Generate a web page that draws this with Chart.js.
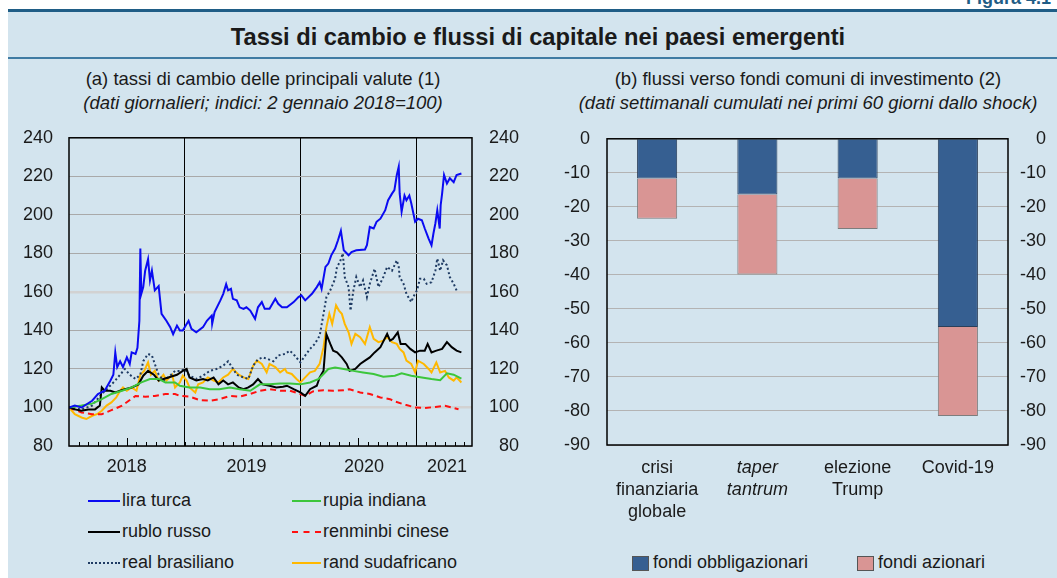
<!DOCTYPE html>
<html>
<head>
<meta charset="utf-8">
<script src="https://cdn.jsdelivr.net/npm/chart.js@4.4.0/dist/chart.umd.min.js"></script>
<style>
  body { margin:0; width:1057px; height:578px; position:relative; overflow:hidden; background:#fff;
         font-family:"Liberation Sans", Arial, sans-serif; color:#1a1a1a; }
  #panel { position:absolute; left:8px; top:12px; right:0; bottom:0; background:#d3e4ee; }
  #topline { position:absolute; left:8px; right:0; top:9px; height:3px; background:#1f5d86; }
  #sepline { position:absolute; left:8px; right:0; top:57px; height:2px; background:#3f7ba3; }
  #fig { position:absolute; right:6px; top:-11px; font-weight:bold; font-size:18px; line-height:18px; color:#1f5d86; }
  #title { position:absolute; left:0; width:1076px; top:24px; text-align:center; font-weight:bold; font-size:23.7px; line-height:26px; }
  .sub { position:absolute; top:67px; text-align:center; font-size:18.5px; line-height:24px; white-space:nowrap; }
  .sub i { display:block; }
  .box { position:absolute; }
  .leg { position:absolute; font-size:18px; line-height:20px; white-space:nowrap; }
  .leg span.s { display:inline-block; vertical-align:middle; }
</style>
</head>
<body>
<div id="panel"></div>
<div id="topline"></div>
<div id="fig">Figura 4.1</div>
<div id="title">Tassi di cambio e flussi di capitale nei paesi emergenti</div>
<div id="sepline"></div>
<div class="sub" style="left:0;width:526px">(a) tassi di cambio delle principali valute (1)<i>(dati giornalieri; indici: 2 gennaio 2018=100)</i></div>
<div class="sub" style="left:540px;width:536px">(b) flussi verso fondi comuni di investimento (2)<i>(dati settimanali cumulati nei primi 60 giorni dallo shock)</i></div>
<div class="box" style="left:0;top:111px"><canvas id="fx" width="530" height="369"></canvas></div>
<div class="box" style="left:530px;top:111px"><canvas id="flows" width="527" height="419"></canvas></div>
<div id="legends"></div>
<script>
// ---- pannello (a): indici, mesi dal 1 gennaio 2018 ----
var yearLabels = ['2018', '2019', '2020', '2021'];
var yearLabelPos = [6, 18.4, 30.6, 39.2];
var yearBreaks = [12, 24, 36];
var xMax = 41.8;

var liraTurca = [[0,100],[0.6,101],[1.3,100],[2.4,103.5],[3,107],[3.7,108.7],[4.3,114],[4.6,117],[4.8,128.6],[5,121],
  [5.3,124],[5.6,121],[6,126],[6.3,122.6],[6.5,128.6],[6.9,127.8],[7.1,131],[7.3,145],[7.4,182.5],[7.5,159],[7.7,162.5],
  [7.9,171],[8.2,177],[8.4,166],[8.6,171],[8.9,160.8],[9.3,163],[9.6,148.6],[10.1,145],[10.5,141.7],[10.8,138],[11.2,142.5],
  [11.5,140],[11.8,140],[12.4,145],[12.7,140.8],[13.2,139],[13.9,141.7],[14.3,145],[14.8,147.7],[14.85,143.4],[15.1,149.5],
  [15.7,155.6],[16,159],[16.3,164],[16.5,160.8],[16.8,161.6],[17,156.4],[17.4,155.6],[17.7,152],[18.1,151.2],[18.4,152],
  [18.8,150.3],[19.3,146],[19.6,152],[20,154.7],[20.3,151.2],[20.8,151.2],[21.4,156.4],[21.7,153.8],[22.1,152],[22.6,152],
  [23.3,154.7],[23.8,157.3],[24.1,158.2],[24.5,155.6],[25.2,159],[25.7,162.5],[26,165],[26.2,161.6],[26.6,173],[26.9,174.7],
  [27.2,179],[27.6,182.5],[27.9,186.8],[28.2,191.7],[28.5,181.6],[29,179],[29.3,180.7],[29.8,181.6],[30.7,182],[30.9,184.2],
  [31.2,193.7],[31.6,192.9],[31.9,196.4],[32.3,198],[32.8,202.4],[33.1,207.6],[33.5,211],[33.75,212.8],[34,220.7],[34.2,225],
  [34.3,211],[34.5,201.6],[34.8,210],[35,207.6],[35.3,210],[35.5,206],[35.9,196.4],[36.2,198],[36.6,197.2],[36.9,192.9],
  [37.3,187.7],[37.6,184.2],[37.8,190.3],[38,195.5],[38.2,202.4],[38.45,192.9],[38.55,205],[38.7,211],[38.9,220.7],
  [39.2,216.3],[39.5,219],[39.9,217],[40.2,220.7],[40.7,221.5]];

var rupiaIndiana = [[0,100],[1.3,101],[2.4,102],[3.4,104.3],[4.4,107],[5.5,108.7],[6.5,110.4],[7.5,113],[8.4,114.8],
  [9.3,114.8],[10,113],[11,113],[11.5,111.3],[12.5,110.4],[13.6,110.4],[14.6,109.5],[15.6,109.5],[16.7,110.4],[17.7,109.5],
  [18.8,108.7],[19.8,112],[20.8,112],[21.9,112.5],[22.9,112.5],[24,112],[25,113],[25.9,114.8],[26.4,117.4],[26.9,120],
  [27.6,120.8],[28.5,120],[29.5,119],[30.5,118.2],[31.6,117.4],[32.6,116],[33.8,116.5],[34.5,117.7],[35.5,116.5],
  [36.6,115.6],[37.6,114.8],[38.5,114.2],[39.2,117.7],[39.9,117],[40.7,115]];

var rubloRusso = [[0,100],[0.6,99],[1.3,98.3],[2,99],[2.7,99],[3.2,101],[3.4,110.4],[3.7,108.7],[4.3,108.7],[4.8,107.8],
  [5.3,108.7],[5.8,109.5],[6.5,110.4],[7.2,112],[7.7,116.5],[8.2,119],[8.8,117],[9.3,114],[9.8,114.8],[10.3,115.6],
  [11.2,117],[11.8,119],[12.2,120],[12.5,115.6],[13.2,114],[13.9,114.8],[14.4,114],[15,115.6],[15.5,112],[16,114],
  [16.5,112],[17,113],[17.6,110.4],[18.1,109.5],[18.6,110.4],[19.1,112],[19.6,114.8],[20.1,112],[20.8,111.3],[21.5,110.4],
  [22.2,110.8],[22.6,111.3],[23.3,109.5],[24,107.8],[24.5,106],[25,109.5],[25.7,111.3],[26,115.6],[26.4,119],[26.7,138],
  [27.1,133],[27.4,129.5],[27.8,128.6],[28.3,126],[28.8,122.6],[29.1,119],[29.7,120],[30.2,122.6],[30.7,124.3],[31.2,126],
  [31.7,128.6],[32.3,131.3],[33,138.2],[33.3,134.7],[33.6,135.6],[34.1,139],[34.4,133],[34.9,133],[35.4,130.4],[35.9,128.6],
  [36.4,129.5],[36.9,129.5],[37.2,133],[37.6,128.6],[38.1,129.5],[38.7,130.4],[39.2,133.9],[39.7,131.3],[40.2,129.5],[40.7,128.6]];

var renminbiCinese = [[0,100],[1.3,97.4],[2.4,96.5],[3.4,96.5],[4.4,98.6],[5.5,100.9],[6.2,103.5],[6.9,106],[7.9,105.6],
  [8.9,106],[10,107],[11,107],[11.5,106],[12.5,105.6],[13.6,103.8],[14.6,103.5],[15.6,104.3],[16.7,106],[17.7,105.6],
  [18.8,107],[19.8,108.7],[20.8,109.5],[21.9,108.7],[22.9,108.7],[24,107],[24.5,106],[25.3,108.3],[26.4,109],[27.4,108.7],
  [28.5,109],[29.1,109.5],[30.2,107.8],[31.2,107],[32.3,105.2],[33.3,104.3],[33.8,103.1],[34.9,101.4],[35.9,100],
  [36.9,99.7],[38,100.3],[39,100.9],[39.7,100],[40.4,99.1]];

var realBrasiliano = [[0,100],[1.3,99],[2.4,101],[3.4,107],[4.1,110.4],[4.8,114],[5.3,117],[5.8,120],[6.3,117],[6.9,114.8],
  [7.4,117],[7.7,124],[8.2,127.8],[8.6,127],[8.9,122.6],[9.3,117],[9.8,114],[10.3,115.6],[11,119],[11.5,119],[12,120],
  [12.5,116.5],[13.2,114.8],[13.9,116.5],[14.6,119],[15.3,120],[16,121.7],[16.5,124],[16.9,121],[17.4,117],[18.1,115.6],
  [18.6,114.8],[19.1,121.7],[19.6,125],[20.1,126],[20.7,125],[21.2,124],[21.7,127],[22.4,127.8],[22.9,129.5],[23.4,127],
  [24,123.4],[24.5,127],[25,130.4],[25.5,133],[26,137.3],[26.4,148.6],[26.7,157.3],[27.1,160.8],[27.6,166.8],[27.8,173],
  [28.1,175.5],[28.4,180],[28.6,167.7],[29,162.5],[29.2,150.3],[29.5,160.8],[29.8,167.7],[30.2,162.5],[30.5,166],
  [30.9,157.3],[31.2,164.2],[31.7,172],[32.1,162.5],[32.6,167.7],[33,173],[33.5,171],[34,176.4],[34.2,173],[34.3,167.7],
  [34.7,164.2],[35,159],[35.5,154.7],[35.7,157.3],[36.1,160.8],[36.4,166.8],[36.8,166.8],[37.1,164.2],[37.6,165],[38,171],
  [38.2,177.3],[38.5,171],[38.8,176.4],[39.2,173.8],[39.5,167.7],[39.9,164.2],[40.2,160.8]];

var randSudafricano = [[0,100],[0.6,96.5],[1.3,94.8],[1.8,94],[2.4,95.7],[2.9,96.5],[3.4,98.3],[3.9,101],[4.4,102.6],
  [4.9,105.2],[5.3,108.7],[5.6,110.4],[6,108.7],[6.5,110.4],[7,108.7],[7.4,117],[7.8,119],[8.2,123.4],[8.5,117],[8.9,119],
  [9.3,114],[9.8,117],[10.1,114],[10.7,117],[11,110.4],[11.5,113],[11.8,116.5],[12.2,114],[12.5,110.4],[13.1,107.8],
  [13.4,112],[13.9,113],[14.4,115.6],[15,114],[15.5,113],[16,115.6],[16.5,117],[17,120],[17.6,117],[18.1,115.6],
  [18.6,114.8],[19.1,121.7],[19.5,124.3],[20,122.6],[20.5,118.2],[20.8,122.6],[21.4,121],[21.9,118.2],[22.4,120],
  [22.6,118.2],[23.1,117.4],[23.6,114.8],[24,113],[24.5,115.6],[25,118.2],[25.5,119],[26,122.6],[26.4,131.3],[26.7,141.7],
  [27,148.6],[27.3,143.4],[27.7,153],[28,150.3],[28.3,148.6],[28.6,143.4],[29,139],[29.3,133],[29.7,138.2],[30.2,136.5],
  [30.7,133],[31.2,141.7],[31.6,135.6],[32.1,133.9],[32.6,134.7],[33,136.5],[33.5,133.9],[34,133],[34.3,130.4],[34.7,128.6],
  [35,124.3],[35.5,122.6],[35.9,118.2],[36.2,124.3],[36.8,122.6],[37.3,120],[37.6,118.2],[38.1,123.4],[38.5,118.2],[39,119],
  [39.4,115.6],[39.9,113.9],[40.2,115.6],[40.7,113]];

// ---- pannello (b): miliardi di dollari ----
var episodi = [['crisi', 'finanziaria', 'globale'], ['taper', 'tantrum'], ['elezione', 'Trump'], ['Covid-19']];
var fondiObbligazionari = [-11.7, -16.4, -11.7, -55.3];
var fondiAzionari = [-11.8, -23.5, -14.8, -26.2];

Chart.defaults.font.family = '"Liberation Sans", Arial, sans-serif';
Chart.defaults.font.size = 18;
Chart.defaults.color = '#1a1a1a';

var lineSeries = [
  { label: 'lira turca', data: liraTurca, color: '#0b0bf2', dash: [], css: 'solid' },
  { label: 'rupia indiana', data: rupiaIndiana, color: '#3cc63c', dash: [], css: 'solid' },
  { label: 'rublo russo', data: rubloRusso, color: '#000000', dash: [], css: 'solid' },
  { label: 'renminbi cinese', data: renminbiCinese, color: '#ff1010', dash: [6, 4], css: 'dashed' },
  { label: 'real brasiliano', data: realBrasiliano, color: '#1f3b63', dash: [2, 2.5], css: 'dotted' },
  { label: 'rand sudafricano', data: randSudafricano, color: '#ffb800', dash: [], css: 'solid' }
];

// cornice nera e tacche mensili verso l'interno
var framePlugin = {
  id: 'frame',
  afterDatasetsDraw: function(chart, args, opts) {
    var ctx = chart.ctx, a = chart.chartArea;
    ctx.save();
    ctx.strokeStyle = '#000';
    if (opts.months) {
      var x = chart.scales.x;
      ctx.lineWidth = 1;
      for (var m = 1; m < x.max; m++) {
        var px = Math.round(x.getPixelForValue(m)) + 0.5;
        var len = (m % 12 === 6) ? 8 : 4;
        ctx.beginPath(); ctx.moveTo(px, a.bottom); ctx.lineTo(px, a.bottom - len); ctx.stroke();
      }
    }
    ctx.lineWidth = 1.5;
    ctx.strokeRect(a.left, a.top, a.right - a.left, a.bottom - a.top);
    ctx.restore();
  }
};

new Chart(document.getElementById('fx'), {
  type: 'line',
  data: {
    datasets: lineSeries.map(function(s) {
      return { label: s.label, data: s.data, borderColor: s.color, borderDash: s.dash,
               borderWidth: 2, pointRadius: 0, tension: 0, fill: false };
    })
  },
  options: {
    responsive: false, animation: false,
    layout: { padding: { top: 13, right: 11, left: 0, bottom: 0 } },
    plugins: { legend: { display: false }, tooltip: { enabled: false }, frame: { months: true } },
    scales: {
      x: {
        type: 'linear', min: 0, max: xMax,
        afterBuildTicks: function(s) {
          s.ticks = yearBreaks.concat(yearLabelPos).sort(function(a, b) { return a - b; })
            .map(function(v) { return { value: v }; });
        },
        afterFit: function(s) { s.height = 34; },
        ticks: { autoSkip: false, maxRotation: 0, padding: 10,
          callback: function(v) { var i = yearLabelPos.indexOf(v); return i >= 0 ? yearLabels[i] : ''; } },
        grid: { drawTicks: false,
          color: function(c) { return yearBreaks.indexOf(c.tick.value) >= 0 ? '#000' : 'rgba(0,0,0,0)'; } },
        border: { display: false }
      },
      y: {
        min: 80, max: 240,
        afterFit: function(s) { s.width = 69; },
        ticks: { stepSize: 20, padding: 16 },
        grid: { drawTicks: false,
          color: function(c) { return (c.tick.value === 100 || c.tick.value === 160) ? '#d2d2d2' : '#a9a9a9'; },
          lineWidth: function(c) { return (c.tick.value === 100 || c.tick.value === 160) ? 2.5 : 1; } },
        border: { display: false }
      },
      y2: {
        position: 'right', min: 80, max: 240,
        afterFit: function(s) { s.width = 47; },
        ticks: { stepSize: 20, crossAlign: 'far' },
        grid: { drawOnChartArea: false, drawTicks: false },
        border: { display: false }
      }
    }
  },
  plugins: [framePlugin]
});

new Chart(document.getElementById('flows'), {
  type: 'bar',
  data: {
    labels: episodi,
    datasets: [
      { label: 'fondi obbligazionari', data: fondiObbligazionari, backgroundColor: '#365f91',
        borderColor: '#2a3f5a', borderWidth: 1, categoryPercentage: 0.8, barPercentage: 0.5 },
      { label: 'fondi azionari', data: fondiAzionari, backgroundColor: '#d99594',
        borderColor: '#7d7d7d', borderWidth: 1, categoryPercentage: 0.8, barPercentage: 0.5 }
    ]
  },
  options: {
    responsive: false, animation: false,
    layout: { padding: { top: 13, right: 11, left: 0, bottom: 0 } },
    plugins: { legend: { display: false }, tooltip: { enabled: false }, frame: { months: false } },
    scales: {
      x: {
        stacked: true,
        afterFit: function(s) { s.height = 85; },
        ticks: { padding: 4, maxRotation: 0, autoSkip: false,
          font: function(c) { return { style: c.index === 1 ? 'italic' : 'normal', lineHeight: 1.22 }; } },
        grid: { display: false },
        border: { display: false }
      },
      y: {
        stacked: true, min: -90, max: 0,
        afterFit: function(s) { s.width = 77; },
        ticks: { stepSize: 10, padding: 17 },
        grid: { drawTicks: false, color: '#b3b3b3' },
        border: { display: false }
      },
      y2: {
        position: 'right', min: -90, max: 0,
        afterFit: function(s) { s.width = 38; },
        ticks: { stepSize: 10, crossAlign: 'far' },
        grid: { drawOnChartArea: false, drawTicks: false },
        border: { display: false }
      }
    }
  },
  plugins: [framePlugin]
});

// legende in HTML
var legendPos = [[88, 500], [292, 500], [88, 531], [292, 531], [88, 562], [292, 562]];
var html = '';
lineSeries.forEach(function(s, i) {
  var p = legendPos[i];
  html += '<div class="leg" style="left:' + p[0] + 'px;top:' + (p[1] - 10) + 'px">' +
    '<span class="s" style="width:' + (i % 2 ? 29 : 32) + 'px;border-top:2.5px ' + s.css + ' ' + s.color +
    ';margin-right:2px"></span>' + s.label + '</div>';
});
var barLegend = [['fondi obbligazionari', '#365f91', 632], ['fondi azionari', '#d99594', 857]];
barLegend.forEach(function(b) {
  html += '<div class="leg" style="left:' + b[2] + 'px;top:552px">' +
    '<span class="s" style="width:17px;height:15px;background:' + b[1] +
    ';border:1px solid #555;margin-right:4px;box-sizing:border-box"></span>' + b[0] + '</div>';
});
document.getElementById('legends').innerHTML = html;
</script>
</body>
</html>
